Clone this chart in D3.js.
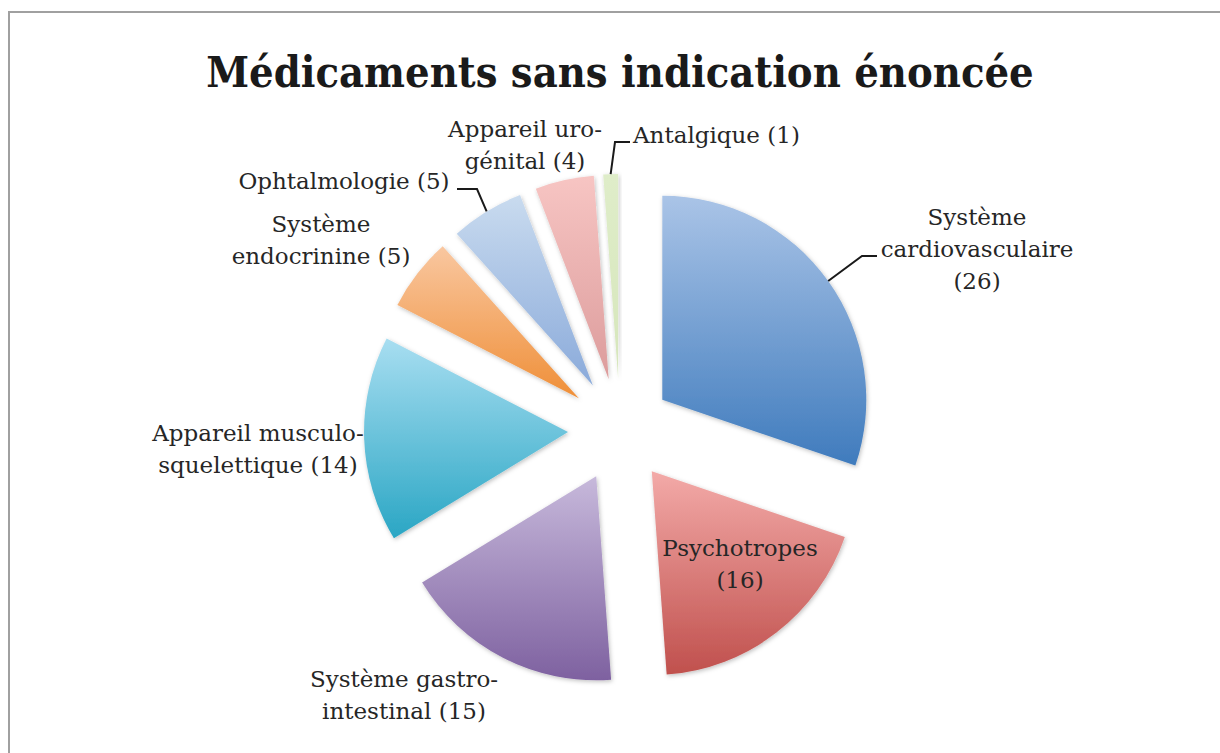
<!DOCTYPE html>
<html lang="fr">
  <head>
    <meta charset="UTF-8" />
    <script src="https://cdn.jsdelivr.net/npm/d3@7/dist/d3.min.js"></script>
    <style>
      body {
        margin: 0;
        background: #ffffff;
      }
      text {
        fill: #262626;
      }
      .title {
        font-family: "DejaVu Serif Condensed", "DejaVu Serif", serif;
        font-weight: bold;
        font-size: 43px;
        fill: #1a1a1a;
      }
      .label {
        font-family: "DejaVu Serif", serif;
        font-size: 23px;
      }
    </style>
  </head>
  <body>
    <div id="chart"></div>
    <script>
      // data
      const categories = [
        "Système cardiovasculaire",
        "Psychotropes",
        "Système gastro-intestinal",
        "Appareil musculo-squelettique",
        "Système endocrinine",
        "Ophtalmologie",
        "Appareil uro-génital",
        "Antalgique",
      ];
      const values = [26, 16, 15, 14, 5, 5, 4, 1];
      const labelLines = [
        ["Système", "cardiovasculaire", "(26)"],
        ["Psychotropes", "(16)"],
        ["Système gastro-", "intestinal (15)"],
        ["Appareil musculo-", "squelettique (14)"],
        ["Système", "endocrinine (5)"],
        ["Ophtalmologie (5)"],
        ["Appareil uro-", "génital (4)"],
        ["Antalgique (1)"],
      ];
      const topColors = ["#aac4e7", "#f3aaa8", "#c7b9db", "#a8def1", "#f9c7a0", "#c9dbef", "#f7c5c3", "#dfedc9"];
      const bottomColors = ["#3f7bbd", "#c0504d", "#7e61a0", "#2aa6c4", "#ef8f38", "#8aaada", "#dc9c9c", "#d6e6bb"];

      const width = 1220,
        height = 753;
      const cx = 620,
        cy = 430,
        radius = 204,
        explode = 52;

      // label placement (centre of the text block) and optional leader elbows
      const labelLayout = [
        { x: 977, y: 249, leader: [[862, 256], [877, 256]] },
        { x: 740, y: 564 },
        { x: 404, y: 695 },
        { x: 258, y: 449 },
        { x: 321, y: 240 },
        { x: 344, y: 181, leader: [[477, 189], [457, 189]] },
        { x: 525, y: 145 },
        { x: 715, y: 135, anchor: "start", tx: 633, leader: [[615, 142], [630, 142]] },
      ];
      const lineHeight = 32;

      const svg = d3
        .select("#chart")
        .append("svg")
        .attr("width", width)
        .attr("height", height);

      // chart frame
      svg
        .append("path")
        .attr("d", `M9,${height} L9,12 L${width},12`)
        .attr("fill", "none")
        .attr("stroke", "#a0a0a0")
        .attr("stroke-width", 2);

      svg
        .append("text")
        .attr("class", "title")
        .attr("x", 620)
        .attr("y", 87)
        .attr("text-anchor", "middle")
        .text("Médicaments sans indication énoncée");

      const defs = svg.append("defs");
      const shadow = defs
        .append("filter")
        .attr("id", "shadow")
        .attr("x", "-20%")
        .attr("y", "-20%")
        .attr("width", "140%")
        .attr("height", "140%");
      shadow
        .append("feDropShadow")
        .attr("dx", 1)
        .attr("dy", 1.5)
        .attr("stdDeviation", 2)
        .attr("flood-color", "#000")
        .attr("flood-opacity", 0.25);

      categories.forEach((c, i) => {
        const g = defs
          .append("linearGradient")
          .attr("id", "grad" + i)
          .attr("x1", 0)
          .attr("y1", 0)
          .attr("x2", 0)
          .attr("y2", 1);
        g.append("stop").attr("offset", "0%").attr("stop-color", topColors[i]);
        g.append("stop").attr("offset", "100%").attr("stop-color", bottomColors[i]);
      });

      const pie = d3.pie().sort(null).value((d) => d.value);
      const arc = d3.arc().innerRadius(0).outerRadius(radius);

      const data = categories.map((c, i) => ({ name: c, value: values[i], i }));
      const arcs = pie(data);

      const chart = svg.append("g").attr("transform", `translate(${cx},${cy})`);

      const offset = (d, r) => {
        const a = (d.startAngle + d.endAngle) / 2;
        return [Math.sin(a) * r, -Math.cos(a) * r];
      };

      chart
        .selectAll("path.slice")
        .data(arcs)
        .join("path")
        .attr("class", "slice")
        .attr("transform", (d) => `translate(${offset(d, explode)})`)
        .attr("d", arc)
        .attr("fill", (d) => `url(#grad${d.data.i})`)
        .attr("filter", "url(#shadow)");

      // leader lines from the middle of the outer arc
      arcs.forEach((d) => {
        const lay = labelLayout[d.data.i];
        if (!lay.leader) return;
        const p = offset(d, explode + radius);
        const pts = [[cx + p[0], cy + p[1]], ...lay.leader];
        svg
          .append("path")
          .attr("d", d3.line()(pts))
          .attr("fill", "none")
          .attr("stroke", "#1a1a1a")
          .attr("stroke-width", 2);
      });

      const labels = svg
        .selectAll("text.label")
        .data(arcs)
        .join("text")
        .attr("class", "label")
        .attr("text-anchor", (d) => labelLayout[d.data.i].anchor || "middle");

      labels.each(function (d) {
        const lay = labelLayout[d.data.i];
        const lines = labelLines[d.data.i];
        const y0 = lay.y - ((lines.length - 1) * lineHeight) / 2;
        d3.select(this)
          .selectAll("tspan")
          .data(lines)
          .join("tspan")
          .attr("x", lay.tx || lay.x)
          .attr("y", (l, k) => y0 + k * lineHeight)
          .attr("dy", "0.35em")
          .text((l) => l);
      });
    </script>
  </body>
</html>
